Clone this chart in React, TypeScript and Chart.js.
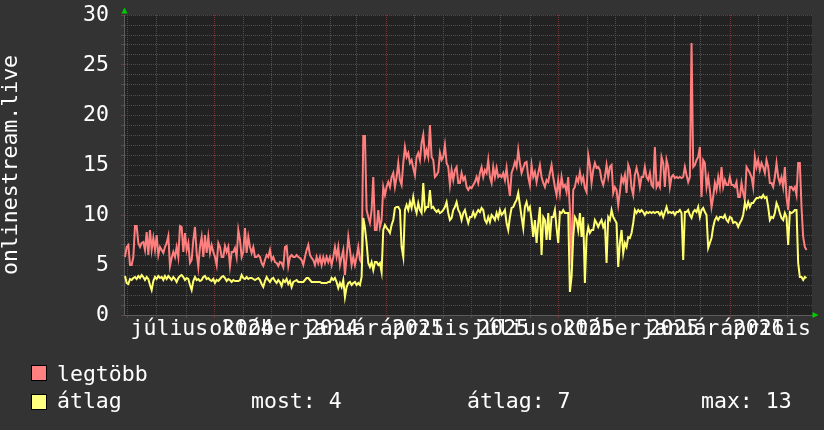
import React, { useEffect, useRef } from 'react';
import { Chart, registerables } from 'chart.js';

Chart.register(...registerables);

const FONT = "'DejaVu Sans Mono', monospace";
const FONT_SIZE = 21.5;
const AXIS_START_UTC = Date.UTC(2024, 5, 27);
const DAY_MS = 86400000;
const AXIS_DAYS = 730;
const FIRST_SAMPLE_DAY = 1.06;
const SAMPLE_STEP_DAYS = 1.768;
const Y_MIN = 0;
const Y_MAX = 30;
const MONTH_COUNT = 24;
const FIRST_LABEL_DAY = 48.2;
const LABEL_STEP_DAYS = 90.37;
const YEAR_LABEL_SHIFT_DAYS = -7.4;

const seriesNames = ['legtöbb', 'átlag'];
const yTitle = 'onlinestream.live';
const statLabels = ['most: 4', 'átlag: 7', 'max: 13'];
const monthLabels = ['július', 'október', 'január', 'április', 'július', 'október', 'január', 'április'];
const yearLabels = ['2024', '2024', '2025', '2025', '2025', '2025', '2026'];

const legtobb = [
  5.8, 6.8, 7.0, 5.0, 5.0, 5.8, 8.9, 8.9, 7.2, 6.8,
  7.2, 7.3, 6.5, 8.3, 6.0, 8.5, 6.5, 7.7, 6.5, 8.0,
  6.0, 6.8, 6.5, 6.2, 6.8, 7.2, 7.9, 4.9, 5.7, 6.3,
  5.8, 6.8, 5.8, 8.9, 8.8, 6.3, 8.2, 6.5, 7.2, 5.2,
  5.5, 7.5, 8.8, 6.2, 4.8, 6.8, 7.8, 5.8, 8.0, 6.2,
  7.8, 6.2, 7.0, 6.3, 5.8, 5.0, 7.2, 6.8, 5.8, 5.8,
  6.9, 6.3, 6.8, 4.9, 6.3, 6.3, 6.7, 5.8, 8.5, 7.5,
  5.8, 6.3, 8.7, 6.2, 7.8, 6.8, 6.2, 6.8, 5.8, 5.8,
  6.0, 5.8, 5.2, 4.9, 5.5, 6.0, 5.8, 6.5, 5.5, 5.8,
  5.3, 5.2, 4.9, 5.3, 5.2, 4.8, 6.8, 6.9, 4.9, 5.8,
  6.0, 5.8, 5.8, 6.0,
  5.8, 5.7, 5.5, 5.0, 5.8, 6.5, 7.0, 6.0, 5.7, 5.5,
  5.0, 5.8, 5.2, 5.8, 5.0, 5.8, 5.2, 5.8, 5.3, 5.8,
  5.0, 5.8, 6.8, 5.8, 6.8, 5.0, 5.8, 6.5, 4.0, 5.8,
  7.8, 6.5, 5.0, 5.8, 5.0, 5.8, 6.8, 5.5, 5.2, 17.9,
  17.9, 10.5, 9.8, 9.2, 10.5, 13.8, 8.5, 8.5, 10.5, 8.8,
  9.5, 12.8, 12.0, 12.8, 13.3, 12.8, 13.8, 14.2, 12.8, 13.8,
  15.2, 13.5, 13.0, 15.2, 16.8, 15.8, 16.2, 15.2, 15.5, 14.7,
  14.0, 15.8, 16.2, 15.5, 17.2, 18.0, 15.8, 16.5, 15.8, 19.0,
  15.8, 15.5, 13.8, 14.0, 14.3, 16.2, 15.5, 15.8, 17.0, 15.2,
  14.8, 13.0, 14.5, 13.5, 14.5, 14.8, 13.2, 13.2, 14.2, 13.5,
  13.8, 12.8, 12.5,
  12.8, 12.7, 13.0, 13.3, 13.8, 13.2, 14.2, 14.8, 13.8, 14.5,
  14.2, 15.5, 13.8, 13.2, 14.8, 13.8, 14.7, 13.8, 14.0, 13.8,
  14.2, 13.5, 14.7, 13.2, 11.9, 14.2, 14.7, 15.3, 14.8, 16.5,
  15.2, 14.2, 14.7, 15.2, 15.3, 13.8, 13.0, 15.0, 13.8, 14.3,
  13.3, 14.2, 15.0, 13.8, 13.2, 12.8, 13.5, 13.3, 14.2, 15.0,
  13.8, 12.8, 12.0, 13.5, 12.2, 13.8, 12.8, 13.0, 12.3, 13.8,
  10.5, 5.0, 12.5, 12.8, 13.7, 13.3, 14.3, 13.3, 13.8, 12.7,
  12.3, 16.0, 15.0, 13.2, 14.5, 15.2, 14.7, 14.8, 14.5, 13.5,
  13.0, 13.8, 15.0, 13.8, 14.8, 15.0, 12.2, 12.8, 12.5, 11.0,
  12.3, 13.8, 13.3, 14.0, 12.2, 15.0, 14.5, 12.7, 12.0, 14.0,
  14.7, 14.0, 12.8, 13.8,
  13.8, 14.8, 13.8, 13.5, 14.2, 13.0, 12.8, 16.8, 12.8, 13.2,
  12.8, 15.8, 15.2, 12.8, 15.5, 14.8, 12.8, 13.8, 14.0, 13.7,
  13.8, 13.7, 13.8, 13.7, 13.8, 14.8, 14.0, 13.3, 13.8, 27.2,
  14.8, 15.0, 15.5, 15.8, 16.8, 11.8, 15.5, 15.2, 12.8, 13.8,
  12.5, 10.8, 11.8, 13.2, 12.5, 13.8, 12.8, 14.8, 12.8, 13.5,
  13.0, 13.0, 13.8, 13.0, 13.0, 12.8, 13.3, 11.8, 11.8, 13.2,
  12.2, 11.5, 14.8, 14.5, 14.2, 13.8, 12.8, 15.8, 14.8, 15.5,
  14.5, 15.2, 14.8, 14.2, 15.5, 14.8, 13.2, 13.2, 12.8, 13.8,
  15.2, 13.8, 13.2, 13.8, 12.8, 14.8, 11.8, 10.5, 12.8, 12.8,
  12.5, 12.8, 12.0, 15.2, 15.2, 10.8, 7.8, 6.8, 6.5,
];

const atlag = [
  3.9, 3.2, 3.1, 3.6, 3.5, 3.7, 3.8, 3.6, 3.9, 3.7,
  4.0, 3.8, 3.5, 3.8, 3.6, 3.0, 2.5, 3.4, 3.8, 3.6,
  3.9, 3.7, 3.8, 3.5, 3.9, 3.6, 3.9, 3.7, 3.5, 3.8,
  3.6, 3.3, 3.7, 3.9, 4.0, 3.8, 3.5, 3.7, 3.6, 3.0,
  2.5, 3.4, 3.8, 3.5, 3.6, 3.4, 3.5, 3.8, 3.9, 3.6,
  3.7, 3.5, 3.4, 3.6, 3.2, 3.5, 3.4, 3.6, 3.8, 3.9,
  3.7, 3.4, 3.6, 3.5, 3.3, 3.5, 3.4, 3.4, 3.4, 3.5,
  4.0, 3.7, 3.6, 3.8, 3.6, 3.7, 3.7, 3.6, 3.5, 3.6,
  3.7, 3.5, 3.1, 2.8, 3.4, 3.8, 3.5, 3.3, 3.6, 3.7,
  3.4, 3.2, 3.5, 3.3, 2.9, 3.5, 3.3, 3.6, 3.1, 3.4,
  2.8, 3.3, 3.4, 3.5,
  3.3, 3.3, 3.3, 3.3, 3.5, 3.7, 3.7, 3.5, 3.3, 3.3,
  3.3, 3.3, 3.3, 3.3, 3.2, 3.2, 3.2, 3.2, 3.3, 3.3,
  3.7, 3.5, 3.7, 3.3, 2.7, 3.2, 2.8, 3.5, 1.8, 2.8,
  3.2, 3.3, 3.0, 3.2, 3.3, 3.0, 3.2, 3.0, 3.8, 9.7,
  8.7, 7.2, 5.2, 4.8, 5.3, 4.5, 5.3, 5.3, 5.0, 5.2,
  4.3, 8.5, 9.0, 8.7, 8.5, 8.2, 9.0, 9.5, 10.7, 10.8,
  10.8, 10.5, 6.8, 5.8, 10.5, 11.0, 10.5, 11.3, 10.7, 11.8,
  10.8, 10.2, 11.2, 10.5, 10.2, 13.2, 10.5, 10.8, 10.8, 12.5,
  10.7, 10.8, 10.5, 10.3, 10.5, 10.2, 10.3, 10.5, 10.8, 11.3,
  10.2, 9.5, 9.7, 10.5, 10.8, 11.3, 10.5, 10.2, 9.5, 10.2,
  10.5, 9.8, 9.2,
  9.8, 9.8, 10.3, 9.8, 10.2, 10.5, 10.3, 10.7, 10.5, 9.5,
  9.2, 9.8, 9.3, 10.0, 9.8, 9.5, 10.2, 9.7, 10.5, 10.0,
  10.2, 10.5, 9.2, 8.5, 9.8, 10.7, 10.8, 11.2, 11.5, 12.2,
  11.0, 9.8, 8.7, 10.8, 11.3, 10.5, 10.8, 9.5, 7.8, 9.5,
  7.2, 9.2, 10.8, 6.0, 9.8, 9.5, 7.5, 10.2, 7.5, 9.8,
  9.8, 10.5, 8.7, 7.2, 10.3, 10.2, 10.5, 10.2, 10.2, 10.2,
  2.3, 3.8, 7.8, 9.8, 9.5, 8.5, 10.2, 7.8, 9.8, 3.2,
  7.8, 8.8, 8.2, 8.5, 8.5, 9.5, 9.2, 8.8, 9.2, 9.5,
  8.8, 9.2, 5.2, 9.8, 9.5, 10.5, 9.8, 9.5, 9.2, 4.8,
  7.2, 8.5, 6.2, 7.2, 6.8, 7.8, 7.7, 8.2, 9.2, 10.5,
  10.2, 10.5, 10.3, 10.5,
  10.3, 10.0, 10.3, 10.2, 10.3, 10.2, 10.3, 10.2, 10.3, 10.3,
  10.0, 10.3, 9.8, 10.3, 10.8, 10.2, 10.3, 10.2, 10.3, 10.0,
  10.3, 10.3, 10.5, 10.2, 5.5, 10.3, 10.3, 10.5, 10.0, 9.7,
  10.3, 10.5, 10.3, 10.8, 9.8, 10.5, 10.7, 10.3, 10.0, 6.7,
  7.2, 7.7, 8.8, 9.5, 9.8, 9.5, 9.8, 9.8, 9.7, 10.0,
  9.5, 9.3, 9.8, 9.7, 9.2, 9.3, 9.2, 8.8, 9.2, 9.5,
  10.0, 11.2, 10.7, 11.3, 10.8, 11.2, 11.2, 11.5, 11.7, 11.7,
  11.8, 11.7, 12.0, 11.7, 11.8, 10.8, 9.5, 9.8, 9.7, 10.2,
  11.2, 10.8, 10.2, 9.7, 9.5, 10.2, 9.8, 7.0, 10.3, 10.2,
  10.3, 10.5, 10.5, 5.2, 3.8, 3.8, 3.5, 3.8, 3.7,
];

const BG_OUTER = '#333333';
const BG_PLOT = '#222222';
const GRID_MINOR = '#505050';
const GRID_MAJOR = '#7a3535';
const AXIS_COLOR = '#5c5c5c';
const TEXT = '#ffffff';
const RED = '#ff7f7f';
const YELLOW = '#ffff70';
const ARROW = '#00cc00';

type XTick = { value: number; kind: 'minor' | 'major' | 'label'; label: string };

function monthStartDay(i: number): number {
  return (Date.UTC(2024, 6 + i, 1) - AXIS_START_UTC) / DAY_MS;
}

function buildXTicks(): XTick[] {
  const out: XTick[] = [];
  for (let i = 0; i < MONTH_COUNT; i++) {
    out.push({ value: monthStartDay(i), kind: i % 3 === 0 ? 'major' : 'minor', label: '' });
  }
  const labelPos = monthLabels.map((_, q) => FIRST_LABEL_DAY + q * LABEL_STEP_DAYS);
  monthLabels.forEach((m, q) => out.push({ value: labelPos[q], kind: 'label', label: m }));
  yearLabels.forEach((y, j) => out.push({ value: labelPos[j + 1] + YEAR_LABEL_SHIFT_DAYS, kind: 'label', label: y }));
  out.sort((a, b) => a.value - b.value);
  return out;
}

const X_TICKS = buildXTicks();

const toPoints = (arr: number[]) => arr.map((v, i) => ({ x: FIRST_SAMPLE_DAY + i * SAMPLE_STEP_DAYS, y: v }));

const backgroundPlugin = {
  id: 'rrdBackground',
  beforeDraw(chart: any) {
    const { ctx, chartArea } = chart;
    ctx.save();
    ctx.fillStyle = BG_OUTER;
    ctx.fillRect(0, 0, chart.width, chart.height);
    ctx.fillStyle = BG_PLOT;
    ctx.fillRect(chartArea.left, chartArea.top, chartArea.right - chartArea.left, chartArea.bottom - chartArea.top);
    ctx.restore();
  },
};

const arrowPlugin = {
  id: 'rrdArrows',
  afterDraw(chart: any) {
    const { ctx, chartArea } = chart;
    const { left, top, right, bottom } = chartArea;
    ctx.save();
    ctx.fillStyle = ARROW;
    ctx.beginPath();
    ctx.moveTo(left - 2.5, top - 1.5);
    ctx.lineTo(left + 3.5, top - 1.5);
    ctx.lineTo(left + 0.5, top - 7.5);
    ctx.closePath();
    ctx.fill();
    ctx.beginPath();
    ctx.moveTo(right + 0.5, bottom - 3);
    ctx.lineTo(right + 0.5, bottom + 3);
    ctx.lineTo(right + 6.5, bottom);
    ctx.closePath();
    ctx.fill();
    ctx.restore();
  },
};

function RrdChart() {
  const canvasRef = useRef<HTMLCanvasElement | null>(null);

  useEffect(() => {
    const canvas = canvasRef.current;
    if (!canvas) return;
    const chart = new Chart(canvas, {
      type: 'line',
      data: {
        datasets: [
          {
            label: seriesNames[0],
            data: toPoints(legtobb),
            borderColor: RED,
            backgroundColor: RED,
            borderWidth: 2,
            pointRadius: 0,
            tension: 0,
            fill: false,
            order: 1,
          },
          {
            label: seriesNames[1],
            data: toPoints(atlag),
            borderColor: YELLOW,
            backgroundColor: YELLOW,
            borderWidth: 2,
            pointRadius: 0,
            tension: 0,
            fill: false,
            order: 0,
          },
        ],
      },
      options: {
        animation: false,
        responsive: true,
        maintainAspectRatio: false,
        devicePixelRatio: 1,
        events: [],
        layout: { padding: { left: 0, right: 12, top: 15, bottom: 0 } },
        plugins: {
          legend: { display: false },
          tooltip: { enabled: false },
        },
        scales: {
          x: {
            type: 'linear',
            min: 0,
            max: AXIS_DAYS,
            afterBuildTicks: (scale: any) => {
              scale.ticks = X_TICKS.map((t) => ({ value: t.value }));
            },
            afterFit: (scale: any) => {
              scale.height = 115;
              scale.paddingLeft = 0;
              scale.paddingRight = 0;
            },
            ticks: {
              autoSkip: false,
              maxRotation: 0,
              minRotation: 0,
              padding: 1,
              color: TEXT,
              font: { family: FONT, size: FONT_SIZE, lineHeight: 1 },
              callback: (_v: any, i: number) => (X_TICKS[i] ? X_TICKS[i].label : ''),
            },
            grid: {
              drawTicks: true,
              tickLength: 3,
              lineWidth: 1,
              tickBorderDash: [],
              color: (ctx: any) => {
                const t = X_TICKS[ctx.index];
                if (!t || t.kind === 'label') return 'rgba(0,0,0,0)';
                return t.kind === 'major' ? GRID_MAJOR : GRID_MINOR;
              },
            },
            border: { display: true, color: AXIS_COLOR, width: 1, dash: [1, 1] },
          },
          y: {
            min: Y_MIN,
            max: Y_MAX,
            afterFit: (scale: any) => {
              scale.width = 124;
              scale.paddingTop = 0;
              scale.paddingBottom = 0;
            },
            ticks: {
              stepSize: 1,
              autoSkip: false,
              padding: 12,
              color: TEXT,
              font: { family: FONT, size: FONT_SIZE },
              callback: (v: any) => (Number(v) % 5 === 0 ? String(v) : ''),
            },
            grid: {
              drawTicks: true,
              tickLength: 3,
              lineWidth: 1,
              tickBorderDash: [],
              color: (ctx: any) => (ctx.tick && Math.round(ctx.tick.value) % 5 === 0 ? GRID_MAJOR : GRID_MINOR),
            },
            border: { display: true, color: AXIS_COLOR, width: 1, dash: [1, 1] },
            title: {
              display: true,
              text: yTitle,
              color: TEXT,
              font: { family: FONT, size: FONT_SIZE, lineHeight: 1.05 },
              padding: 0,
            },
          },
        },
      } as any,
      plugins: [backgroundPlugin, arrowPlugin],
    });
    return () => chart.destroy();
  }, []);

  return <canvas ref={canvasRef} />;
}

const legendText: React.CSSProperties = {
  position: 'absolute',
  fontFamily: FONT,
  fontSize: `${FONT_SIZE}px`,
  lineHeight: `${FONT_SIZE}px`,
  color: TEXT,
  whiteSpace: 'pre',
  margin: 0,
};

const swatch = (color: string, top: number): React.CSSProperties => ({
  position: 'absolute',
  left: 31,
  top,
  width: 16,
  height: 16,
  boxSizing: 'border-box',
  border: '1px solid #000',
  background: color,
});

export default function App() {
  return (
    <div style={{ position: 'fixed', left: 0, top: 0, width: 824, height: 430, background: BG_OUTER, overflow: 'hidden' }}>
      <div style={{ position: 'absolute', left: 0, top: 0, width: 824, height: 430 }}>
        <RrdChart />
      </div>
      <div style={swatch('#ff8080', 365)} />
      <div style={{ ...legendText, left: 57, top: 363 }}>{seriesNames[0]}</div>
      <div style={swatch('#ffff80', 394)} />
      <div style={{ ...legendText, left: 57, top: 390 }}>{seriesNames[1]}</div>
      <div style={{ ...legendText, left: 251, top: 390 }}>{statLabels[0]}</div>
      <div style={{ ...legendText, left: 467, top: 390 }}>{statLabels[1]}</div>
      <div style={{ ...legendText, left: 701, top: 390 }}>{statLabels[2]}</div>
    </div>
  );
}
